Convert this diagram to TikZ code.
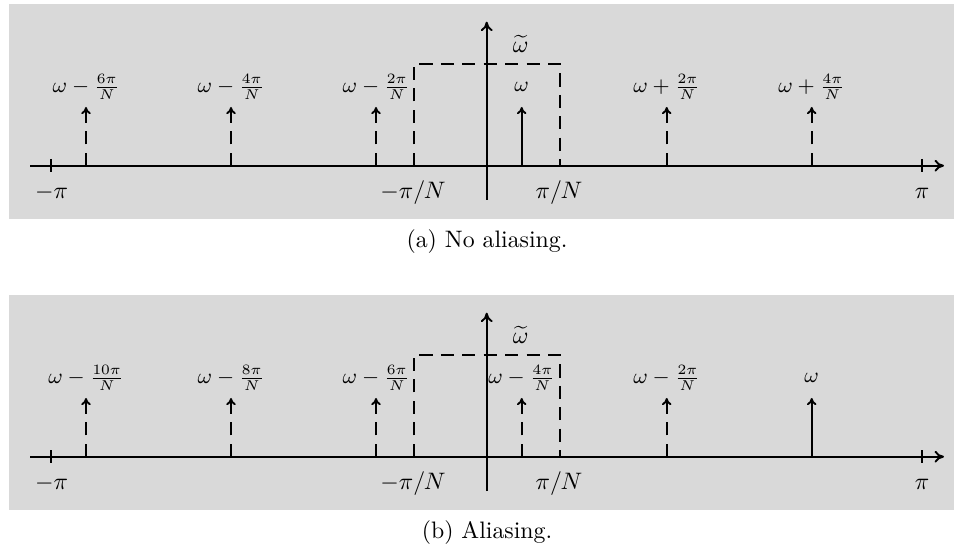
\documentclass[tikz,border=0pt]{standalone}
\usetikzlibrary{arrows.meta}
\begin{document}
\begin{tikzpicture}[x=0.42pt,y=-0.42pt,
  panelbg/.style={fill=gray!30},
  axisline/.style={thick,-{To[length=4pt,width=5pt]}},
  tickline/.style={thick},
  spikeline/.style={thick,-{To[length=3pt,width=4pt]}},
  dashline/.style={thick,dash pattern=on 5.5pt off 3.5pt},
  lab/.style={font=\small,inner sep=1pt},
  axlab/.style={inner sep=1pt},
  caption/.style={inner sep=1pt}]
\useasboundingbox (0,0) rectangle (954,552);
\foreach \p/\oy in {a/0,b/291} {
\begin{scope}[shift={(0,\oy)}]
  \fill[panelbg] (9,4) rectangle (954,219.3);
  \coordinate (\p xs) at (30,165.7);
  \coordinate (\p xe) at (944,165.7);
  \coordinate (\p ys) at (486.7,200);
  \coordinate (\p ye) at (486.7,21.7);
  \draw[axisline] (\p xs) -- (\p xe);
  \draw[axisline] (\p ys) -- (\p ye);
  \coordinate (\p tl1) at (51,159); \coordinate (\p tl2) at (51,172);
  \coordinate (\p tr1) at (922,159); \coordinate (\p tr2) at (922,172);
  \draw[tickline] (\p tl1) -- (\p tl2);
  \draw[tickline] (\p tr1) -- (\p tr2);
  \coordinate (\p r1) at (414,165.7);
  \coordinate (\p r2) at (414,64);
  \coordinate (\p r3) at (560,64);
  \coordinate (\p r4) at (560,165.7);
  \draw[dashline] (\p r1) -- (\p r2) -- (\p r3) -- (\p r4);
  \node[axlab] (\p mpi) at (51.7,193) {$-\pi$};
  \node[axlab] (\p mpin) at (413,193) {$-\pi/N$};
  \node[axlab] (\p pin) at (559,193) {$\pi/N$};
  \node[axlab] (\p pi) at (922,193) {$\pi$};
  \node[axlab] (\p wt) at (520.7,44) {$\widetilde{\omega}$};
  \foreach \i/\x in {1/86,2/231,3/376,4/521.7,5/666.7,6/811.7} {
    \coordinate (\p s\i) at (\x,165.7);
    \coordinate (\p t\i) at (\x,107);
  }
\end{scope}
}
% panel (a)
\draw[spikeline,dashline] (as1) -- (at1);
\draw[spikeline,dashline] (as2) -- (at2);
\draw[spikeline,dashline] (as3) -- (at3);
\draw[spikeline] (as4) -- (at4);
\draw[spikeline,dashline] (as5) -- (at5);
\draw[spikeline,dashline] (as6) -- (at6);
\node[lab] (al1) at (86,87) {$\omega-\frac{6\pi}{N}$};
\node[lab] (al2) at (231,87) {$\omega-\frac{4\pi}{N}$};
\node[lab] (al3) at (376,87) {$\omega-\frac{2\pi}{N}$};
\node[lab] (al4) at (521.7,87) {$\omega$};
\node[lab] (al5) at (666.7,87) {$\omega+\frac{2\pi}{N}$};
\node[lab] (al6) at (811.7,87) {$\omega+\frac{4\pi}{N}$};
% panel (b)
\draw[spikeline,dashline] (bs1) -- (bt1);
\draw[spikeline,dashline] (bs2) -- (bt2);
\draw[spikeline,dashline] (bs3) -- (bt3);
\draw[spikeline,dashline] (bs4) -- (bt4);
\draw[spikeline,dashline] (bs5) -- (bt5);
\draw[spikeline] (bs6) -- (bt6);
\node[lab] (bl1) at (86,378) {$\omega-\frac{10\pi}{N}$};
\node[lab] (bl2) at (231,378) {$\omega-\frac{8\pi}{N}$};
\node[lab] (bl3) at (376,378) {$\omega-\frac{6\pi}{N}$};
\node[lab] (bl4) at (521.7,378) {$\omega-\frac{4\pi}{N}$};
\node[lab] (bl5) at (666.7,378) {$\omega-\frac{2\pi}{N}$};
\node[lab] (bl6) at (811.7,378) {$\omega$};
\node[caption] (capa) at (487,242) {(a) No aliasing.};
\node[caption] (capb) at (487,533) {(b) Aliasing.};
\end{tikzpicture}
\end{document}
